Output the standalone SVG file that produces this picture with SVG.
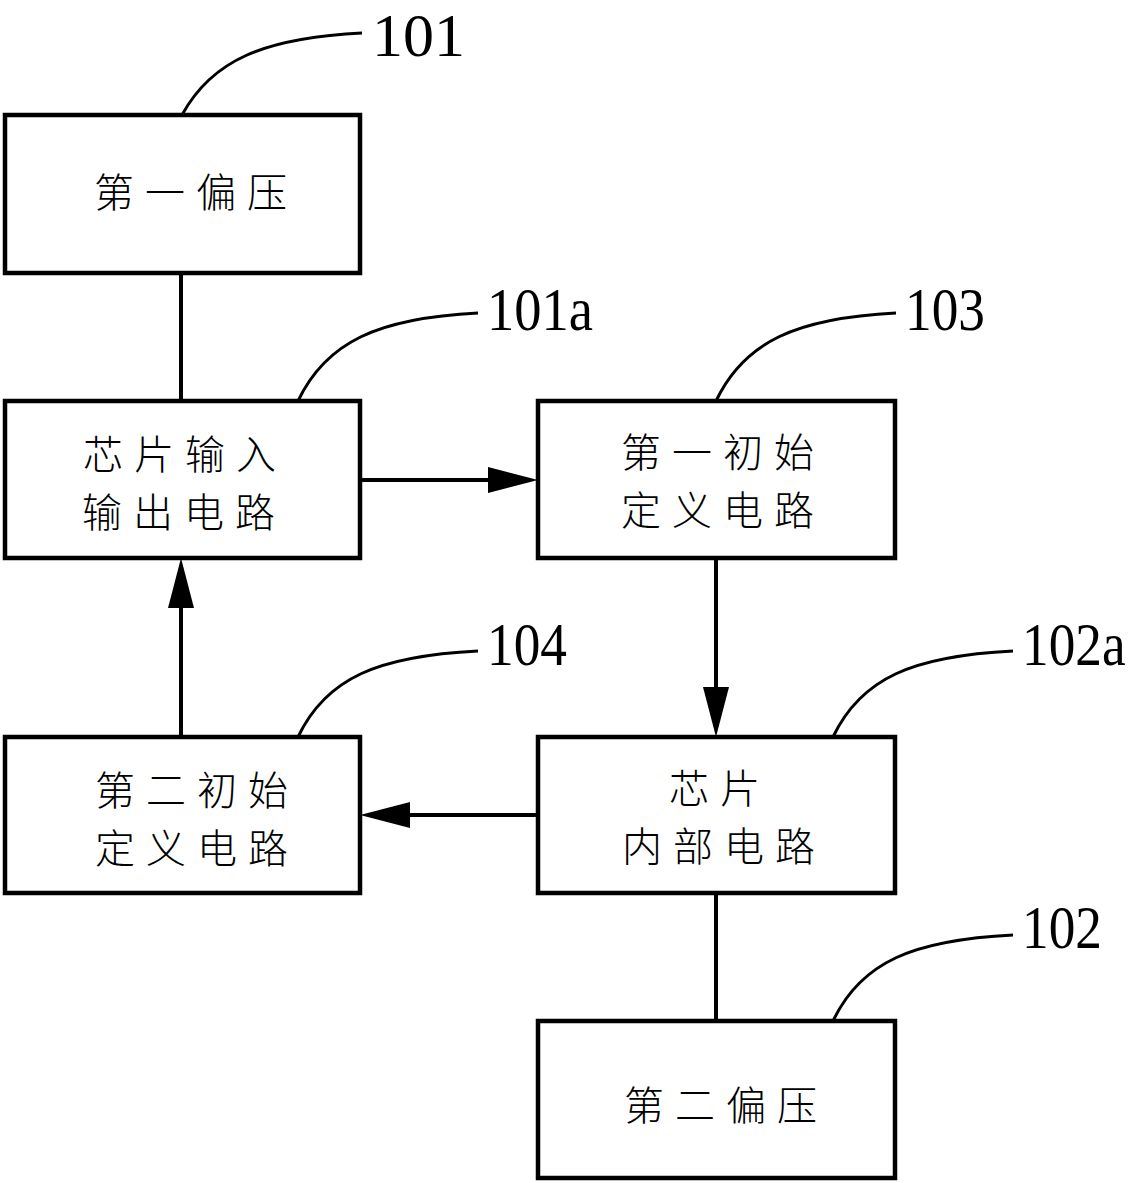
<svg xmlns="http://www.w3.org/2000/svg" width="1133" height="1183" viewBox="0 0 1133 1183">
<style>
.box{fill:#fff;stroke:#000;stroke-width:4.5}
.lbl{font-family:"Noto Sans CJK SC","Noto Sans",sans-serif;font-size:40px;letter-spacing:11px;text-anchor:middle;fill:#000;font-weight:300}
.num{font-family:"Liberation Serif",serif;font-size:62px;fill:#000}
.lead{fill:none;stroke:#000;stroke-width:3}
.con{fill:none;stroke:#000;stroke-width:4}
</style>
<defs>
<marker id="ah" markerUnits="userSpaceOnUse" markerWidth="50" markerHeight="26" refX="5" refY="13" orient="auto" viewBox="0 0 50 26">
<path d="M0,0 L50,13 L0,26 z" fill="#000"/>
</marker>
</defs>
<rect width="1133" height="1183" fill="#fff"/>
<g id="connectors">
<line class="con" x1="181" y1="273" x2="181" y2="401"/>
<line class="con" x1="360" y1="480" x2="493" y2="480" marker-end="url(#ah)"/>
<line class="con" x1="716" y1="558" x2="716" y2="692" marker-end="url(#ah)"/>
<line class="con" x1="538" y1="815" x2="405" y2="815" marker-end="url(#ah)"/>
<line class="con" x1="181" y1="737" x2="181" y2="603" marker-end="url(#ah)"/>
<line class="con" x1="716" y1="893" x2="716" y2="1021"/>
</g>
<g id="leaders">
<path class="lead" d="M182,115 C212,60 264,38 362,33"/>
<path class="lead" d="M298,401 C326,342 378,318 478,313"/>
<path class="lead" d="M716,401 C744,342 796,318 896,313"/>
<path class="lead" d="M298,737 C326,678 378,656 478,651"/>
<path class="lead" d="M833,737 C861,678 913,656 1013,651"/>
<path class="lead" d="M833,1021 C861,962 913,940 1013,935"/>
</g>
<g id="n101">
<rect class="box" x="5" y="115" width="355" height="158"/>
<text class="lbl" x="196" y="207">第一偏压</text>
<text class="num" font-size="54" x="372" y="56">101</text>
</g>
<g id="n101a">
<rect class="box" x="5" y="401" width="355" height="157"/>
<text class="lbl" x="185" y="469">芯片输入</text>
<text class="lbl" x="184" y="527">输出电路</text>
<text class="num" transform="translate(487,330) scale(0.88,1)">101a</text>
</g>
<g id="n103">
<rect class="box" x="538" y="401" width="357" height="157"/>
<text class="lbl" x="723" y="467">第一初始</text>
<text class="lbl" x="723" y="525">定义电路</text>
<text class="num" transform="translate(905,330) scale(0.86,1)">103</text>
</g>
<g id="n104">
<rect class="box" x="5" y="737" width="355" height="156"/>
<text class="lbl" x="197" y="805">第二初始</text>
<text class="lbl" x="197" y="863">定义电路</text>
<text class="num" transform="translate(487,665) scale(0.86,1)">104</text>
</g>
<g id="n102a">
<rect class="box" x="538" y="737" width="357" height="156"/>
<text class="lbl" x="720" y="803">芯片</text>
<text class="lbl" x="724" y="861">内部电路</text>
<text class="num" transform="translate(1022,665) scale(0.86,1)">102a</text>
</g>
<g id="n102">
<rect class="box" x="538" y="1021" width="357" height="157"/>
<text class="lbl" x="726" y="1120">第二偏压</text>
<text class="num" transform="translate(1022,948) scale(0.86,1)">102</text>
</g>
</svg>
